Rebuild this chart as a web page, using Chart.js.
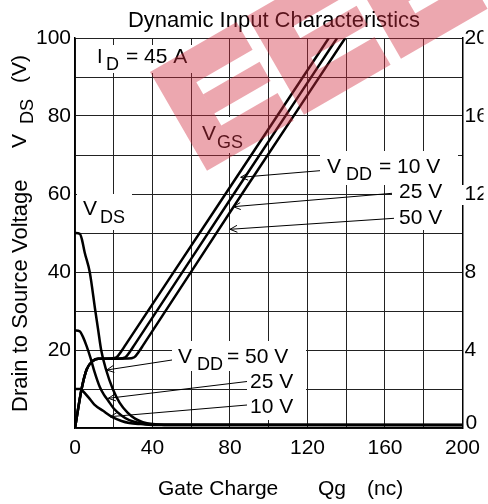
<!DOCTYPE html>
<html>
<head>
<meta charset="utf-8">
<script src="https://cdn.jsdelivr.net/npm/chart.js@4.4.1/dist/chart.umd.min.js"></script>
<style>
html,body{margin:0;padding:0;background:#fff;}
canvas{display:block;}
</style>
</head>
<body>
<canvas id="c" width="488" height="504"></canvas>
<script>
// ---- Data ----
const xTickLabels = [0, 40, 80, 120, 160, 200];
const yLeftTickLabels = [20, 40, 60, 80, 100];
const yRightTickLabels = [4, 8, 12, 16, 20];   // "0" is drawn slightly raised, as in the reference

// Gate-source voltage (V, right axis) vs gate charge (nC)
const qVgs10 = [0, 3.4, 6, 9.3, 12, 18, 21.4, 24, 26, 78, 131];
const vgs10  = [0, 2.0, 3.0, 3.45, 3.55, 3.56, 3.63, 3.95, 4.25, 12.05, 20];
const qVgs25 = [0, 3.4, 6, 9.3, 12, 22.6, 26, 28.6, 30.6, 82.3, 135.3];
const vgs25  = [0, 2.0, 3.0, 3.45, 3.55, 3.56, 3.63, 3.95, 4.25, 12.05, 20];
const qVgs50 = [0, 3.4, 6, 9.3, 12, 27.2, 30.6, 33.2, 35.2, 86.5, 139.5];
const vgs50  = [0, 2.0, 3.0, 3.45, 3.55, 3.56, 3.63, 3.95, 4.25, 12.05, 20];

// Drain-source voltage (V, left axis) vs gate charge (nC)
const qVds50 = [0, 2.5, 3.5, 5, 7.6, 10.5, 12, 13.5, 16, 19.5, 23, 27, 31, 35, 40, 46, 200];
const vds50  = [50, 49.8, 48.5, 45, 40, 30, 25, 20, 15, 10, 6.5, 4, 2.4, 1.5, 1.0, 0.8, 0.8];
const qVds25 = [0, 2.5, 4, 6, 8, 10, 12.8, 15, 17, 20, 24, 28, 33, 40, 200];
const vds25  = [25, 24.8, 23.5, 21, 18, 14.5, 10.5, 8.5, 7.1, 5, 3.2, 2, 1.3, 0.9, 0.8];
const qVds10 = [0, 2.5, 4, 7.7, 10, 14.5, 19.6, 24, 28, 34, 40, 200];
const vds10  = [10, 10, 9.5, 7.4, 6, 4.4, 2.7, 1.8, 1.3, 1.0, 0.8, 0.8];

const pts = (xs, ys) => xs.map((x, i) => ({x, y: ys[i]}));
const FONT = '"Liberation Sans", Arial, Helvetica, sans-serif';

function line(data, axis) {
  return {
    data, yAxisID: axis, borderColor: '#000', borderWidth: 2.5,
    pointRadius: 0, fill: false, cubicInterpolationMode: 'monotone', showLine: true
  };
}

function txt(ctx, s, x, y, size) {
  ctx.font = size + 'px ' + FONT;
  ctx.fillText(s, x, y);
}
function arrow(ctx, x1, y1, x2, y2) {
  ctx.beginPath();
  ctx.moveTo(x1, y1); ctx.lineTo(x2, y2);
  const a = Math.atan2(y2 - y1, x2 - x1), L = 8, w = 0.45;
  ctx.moveTo(x2 - L * Math.cos(a - w), y2 - L * Math.sin(a - w));
  ctx.lineTo(x2, y2);
  ctx.lineTo(x2 - L * Math.cos(a + w), y2 - L * Math.sin(a + w));
  ctx.stroke();
}

// translucent red watermark logo (decoration over the top of the picture)
function watermark(ctx) {
  const L = [150, 72], u = [0.866, -0.5], v = [0.5, 0.866];
  const P = (s, t) => [L[0] + s * u[0] + t * v[0], L[1] + s * u[1] + t * v[1]];
  const rect = (s0, t0, s1, t1) => {
    const a = P(s0, t0), b = P(s1, t0), c = P(s1, t1), d = P(s0, t1);
    ctx.moveTo(a[0], a[1]); ctx.lineTo(b[0], b[1]); ctx.lineTo(c[0], c[1]); ctx.lineTo(d[0], d[1]); ctx.closePath();
  };
  ctx.save();
  ctx.beginPath();
  [0, 112, 224].forEach(s0 => {
    const W = 100, S = 35;
    rect(s0, 0, s0 + S, 114);
    rect(s0 + S, 0, s0 + W, 32);
    rect(s0 + S, 46, s0 + W, 68);
    rect(s0 + S, 82, s0 + W, 114);
  });
  ctx.fillStyle = 'rgba(210,45,65,0.42)';
  ctx.fill('nonzero');
  ctx.restore();
}

const deco = {
  id: 'deco',
  beforeDatasetsDraw(chart) {
    const ctx = chart.ctx;
    ctx.save();
    ctx.fillStyle = '#fff';
    const boxes = [
      [95, 45, 100, 28],    // I D = 45 A
      [77, 194, 55, 36],    // V DS
      [198, 117, 50, 36],   // V GS
      [320, 151, 138, 34],  // VDD = 10 V
      [392, 185, 73, 20],   // 25 V
      [395, 205, 65, 25],   // 50 V
      [172, 341, 134, 30],  // VDD = 50 V
      [247, 371, 59, 49]    // 25 V, 10 V
    ];
    boxes.forEach(b => ctx.fillRect(b[0], b[1], b[2], b[3]));
    ctx.restore();
  },
  afterDatasetsDraw(chart) {
    const ctx = chart.ctx;
    ctx.save();
    ctx.fillStyle = '#000';
    ctx.strokeStyle = '#000';
    ctx.textBaseline = 'alphabetic';
    // title
    ctx.textAlign = 'center';
    txt(ctx, 'Dynamic Input Characteristics', 274, 27, 22);
    // x title
    ctx.textAlign = 'left';
    txt(ctx, 'Gate Charge', 158, 495, 21);
    txt(ctx, 'Qg', 318, 495, 21);
    txt(ctx, '(nc)', 367, 495, 21);
    // right axis "0" (raised above its tick as in the reference)
    const y2 = chart.scales.y2;
    txt(ctx, '0', y2.left + 3, y2.getPixelForValue(0) + 1, 21);
    // y title rotated
    ctx.save();
    ctx.translate(27, 412);
    ctx.rotate(-Math.PI / 2);
    txt(ctx, 'Drain to Source Voltage', 0, 0, 22);
    txt(ctx, 'V', 264, -1, 21);
    txt(ctx, 'DS', 288, 6, 18);
    txt(ctx, '(V)', 329, -1, 21);
    ctx.restore();
    // annotations
    txt(ctx, 'I', 97, 63, 20);
    txt(ctx, 'D', 106, 70, 18);
    txt(ctx, '= 45 A', 126, 63, 21);
    txt(ctx, 'V', 83, 215, 21);
    txt(ctx, 'DS', 100, 223, 18);
    txt(ctx, 'V', 202, 140, 21);
    txt(ctx, 'GS', 217, 148, 18);
    txt(ctx, 'V', 327, 173, 21);
    txt(ctx, 'DD', 346, 180, 18);
    txt(ctx, '= 10 V', 379, 173, 21);
    txt(ctx, '25 V', 399, 198, 21);
    txt(ctx, '50 V', 399, 224, 21);
    txt(ctx, 'V', 178, 363, 21);
    txt(ctx, 'DD', 197, 370, 18);
    txt(ctx, '= 50 V', 227, 363, 21);
    txt(ctx, '25 V', 250, 388, 21);
    txt(ctx, '10 V', 250, 413, 21);
    // arrows
    ctx.lineWidth = 1;
    arrow(ctx, 320, 170.7, 240.7, 177.3);
    arrow(ctx, 392, 193.3, 233.3, 206.7);
    arrow(ctx, 394, 218.3, 230, 229.3);
    arrow(ctx, 172, 360, 106.7, 370);
    arrow(ctx, 247, 381.5, 108.3, 398.3);
    arrow(ctx, 247, 405, 110, 416.7);
    ctx.restore();
  },
  afterDraw(chart) {
    watermark(chart.ctx);
  }
};

const gridColor = '#222';
new Chart(document.getElementById('c'), {
  type: 'scatter',
  data: {
    datasets: [
      line(pts(qVgs10, vgs10), 'y2'),
      line(pts(qVgs25, vgs25), 'y2'),
      line(pts(qVgs50, vgs50), 'y2'),
      line(pts(qVds50, vds50), 'y'),
      line(pts(qVds25, vds25), 'y'),
      line(pts(qVds10, vds10), 'y')
    ]
  },
  options: {
    responsive: false,
    animation: false,
    layout: { padding: { top: 38, left: 0, right: 0, bottom: 0 } },
    plugins: { legend: { display: false }, tooltip: { enabled: false }, title: { display: false } },
    scales: {
      x: {
        type: 'linear', min: 0, max: 200,
        ticks: { stepSize: 20, color: '#000', padding: 8, maxRotation: 0, autoSkip: false,
          font: { family: FONT, size: 21 },
          callback: v => xTickLabels.includes(v) ? String(v) : '' },
        grid: { color: gridColor, lineWidth: 1, drawTicks: false },
        border: { color: '#000', width: 1.5 },
        afterFit: s => { s.height = 76; }
      },
      y: {
        type: 'linear', position: 'left', min: 0, max: 100,
        ticks: { stepSize: 10, color: '#000', padding: 4, autoSkip: false,
          font: { family: FONT, size: 21 },
          callback: v => yLeftTickLabels.includes(v) ? String(v) : '' },
        grid: { color: gridColor, lineWidth: 1, drawTicks: false },
        border: { color: '#000', width: 1.5 },
        afterFit: s => { s.width = 75; }
      },
      y2: {
        type: 'linear', position: 'right', min: 0, max: 20,
        ticks: { stepSize: 2, color: '#000', padding: 2, autoSkip: false,
          font: { family: FONT, size: 21 },
          callback: v => yRightTickLabels.includes(v) ? String(v) : '' },
        grid: { display: false, drawTicks: false },
        border: { color: '#000', width: 1.5 },
        afterFit: s => { s.width = 21; }
      }
    }
  },
  plugins: [deco]
});
</script>
</body>
</html>
